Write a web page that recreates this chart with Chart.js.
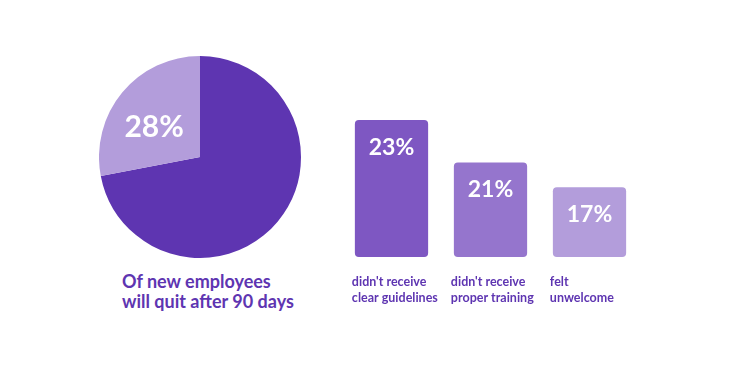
<!DOCTYPE html>
<html>
<head>
<meta charset="utf-8">
<script src="https://cdn.jsdelivr.net/npm/chart.js@4"></script>
<style>
  body { margin: 0; background: #fff; }
  #wrap { position: relative; width: 750px; height: 375px; overflow: hidden; }
  #pie { position: absolute; left: 99px; top: 56px; }
  #bars { position: absolute; left: 340px; top: 100px; }
  #caption {
    position: absolute; left: 122px; top: 271px;
    font-family: Lato, sans-serif; font-weight: 700; font-size: 18px;
    line-height: 20px; color: #5e35b1;
  }
</style>
</head>
<body>
<div id="wrap">
  <canvas id="pie" width="202" height="202"></canvas>
  <canvas id="bars" width="310" height="220"></canvas>
  <div id="caption">Of new employees<br>will quit after 90 days</div>
</div>
<script>
// pie: share of new employees who quit
var pieLabels = ["stay", "quit after 90 days"];
var pieValues = [72, 28];
var pieColors = ["#5e35b1", "#b39ddb"];

// bars: reasons
var barLabels = [["didn't receive", "clear guidelines"], ["didn't receive", "proper training"], ["felt", "unwelcome"]];
var barPercent = [23, 21, 17];
// relative bar heights as drawn (tallest = 100)
var barHeights = [100, 69, 51];
var barColors = ["#7e57c2", "#9575cd", "#b39ddb"];

var pieText = {
  id: "pieText",
  afterDatasetsDraw: function (chart) {
    var arc = chart.getDatasetMeta(0).data[1];
    var mid = (arc.startAngle + arc.endAngle) / 2 - 0.12;
    var r = arc.outerRadius * 0.54;
    var ctx = chart.ctx;
    ctx.save();
    ctx.fillStyle = "#fff";
    ctx.font = "700 30px Lato";
    ctx.textAlign = "center";
    ctx.textBaseline = "middle";
    ctx.fillText(pieValues[1] + "%", arc.x + Math.cos(mid) * r, arc.y + Math.sin(mid) * r);
    ctx.restore();
  }
};

new Chart(document.getElementById("pie"), {
  type: "pie",
  data: {
    labels: pieLabels,
    datasets: [{ data: pieValues, backgroundColor: pieColors, borderWidth: 0 }]
  },
  options: {
    responsive: false,
    animation: false,
    plugins: { legend: { display: false }, tooltip: { enabled: false } }
  },
  plugins: [pieText]
});

var barText = {
  id: "barText",
  afterDatasetsDraw: function (chart) {
    var ctx = chart.ctx;
    var bars = chart.getDatasetMeta(0).data;
    ctx.save();
    bars.forEach(function (bar, i) {
      ctx.fillStyle = "#fff";
      ctx.font = "700 23px Lato";
      ctx.textAlign = "center";
      ctx.textBaseline = "alphabetic";
      ctx.fillText(barPercent[i] + "%", bar.x, bar.y + 35);

      ctx.fillStyle = "#5e35b1";
      ctx.font = "700 12.5px Lato";
      ctx.textAlign = "left";
      var left = bar.x - bar.width / 2 - 3;
      barLabels[i].forEach(function (line, j) {
        ctx.fillText(line, left, bar.base + 29 + j * 16);
      });
    });
    ctx.restore();
  }
};

new Chart(document.getElementById("bars"), {
  type: "bar",
  data: {
    labels: barLabels,
    datasets: [{
      data: barHeights,
      backgroundColor: barColors,
      borderRadius: 4,
      borderSkipped: false,
      barPercentage: 0.74,
      categoryPercentage: 1
    }]
  },
  options: {
    responsive: false,
    animation: false,
    layout: { padding: { left: 2, right: 11, top: 20, bottom: 63 } },
    scales: {
      x: { display: false },
      y: { display: false, min: 0, max: 100 }
    },
    plugins: { legend: { display: false }, tooltip: { enabled: false } }
  },
  plugins: [barText]
});
</script>
</body>
</html>
